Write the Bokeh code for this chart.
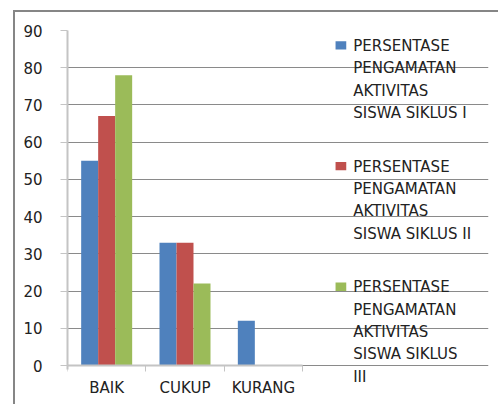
from bokeh.plotting import figure
from bokeh.models import ColumnDataSource, Range1d, FixedTicker
from bokeh.core.properties import value
from bokeh.transform import dodge
from bokeh.embed import file_html
from bokeh.resources import INLINE

categories = ["BAIK", "CUKUP", "KURANG"]
siklus1 = [55, 33, 12]
siklus2 = [67, 33, 0]
siklus3 = [78, 22, 0]
series_labels = [
    ["PERSENTASE", "PENGAMATAN", "AKTIVITAS", "SISWA SIKLUS I"],
    ["PERSENTASE", "PENGAMATAN", "AKTIVITAS", "SISWA SIKLUS II"],
    ["PERSENTASE", "PENGAMATAN", "AKTIVITAS", "SISWA SIKLUS", "III"],
]
y_ticks = list(range(0, 91, 10))

colors = ["#4F81BD", "#C0504D", "#9BBB59"]
FONT = "DejaVu Sans"
TEXT_COLOR = "#222222"

# ---- layout geometry (pixels) ----
W, H = 485, 394
ML, MT, MR, MB = 52, 18, 12, 6
FW, FH = W - ML - MR, H - MT - MB
CAT_PX = 235 / 3            # pixel width of one category slot
VAL_PX = 335 / 90           # pixels per value unit
BASE_FIX = 4.5              # text baseline compensation (px)
n = len(categories)
y_max = y_ticks[-1]
x_end = FW / CAT_PX
y_start = -(FH - y_max * VAL_PX) / VAL_PX

def px_x(px):   # pixel offset from the value axis -> x data
    return px / CAT_PX

def px_y(px):   # pixel offset above the zero line -> y data
    return px / VAL_PX

centers = [i + 0.5 for i in range(n)]          # category slot centres
bounds = [float(i) for i in range(n + 1)]      # category slot boundaries

source = ColumnDataSource(dict(x=centers, cat=categories,
                               s1=siklus1, s2=siklus2, s3=siklus3))

p = figure(width=W, height=H, output_backend="svg", toolbar_location=None,
           x_range=Range1d(0, x_end), y_range=Range1d(y_start, y_max),
           min_border_left=ML, min_border_right=MR, min_border_top=MT,
           min_border_bottom=MB)
p.margin = (10, 0, 0, 13)
p.styles = {"border-left": "2px solid #868686", "border-top": "2px solid #868686",
            "border-right": "none", "border-bottom": "none"}
p.outline_line_color = None
p.background_fill_color = "white"
p.border_fill_color = "white"

bw = 0.217
for field, off, col in zip(["s1", "s2", "s3"], [-bw, 0, bw], colors):
    p.vbar(x=dodge("x", off), top=field, width=bw,
           source=source, fill_color=col, line_color=None)

# y axis
p.yaxis.ticker = FixedTicker(ticks=y_ticks)
p.yaxis.bounds = (-1, y_max)
p.yaxis.axis_line_color = "#C4C4C4"
p.yaxis.axis_line_width = 2
p.yaxis.major_tick_line_color = "#C4C4C4"
p.yaxis.major_tick_out = 7
p.yaxis.major_tick_in = 0
p.yaxis.minor_tick_line_color = None
p.yaxis.major_label_standoff = 18
p.yaxis.major_label_text_font = FONT
p.yaxis.major_label_text_font_size = "15px"
p.yaxis.major_label_text_color = TEXT_COLOR

p.ygrid.grid_line_color = "#8A8A8A"
p.ygrid.grid_line_width = 1
p.ygrid.bounds = (0, n)
p.xgrid.grid_line_color = None

# x axis drawn at value 0: line + boundary ticks; category names as text
xaxis = p.xaxis[0]
xaxis.fixed_location = 0
xaxis.bounds = (0, n)
xaxis.ticker = FixedTicker(ticks=[], minor_ticks=bounds)
xaxis.axis_line_color = "#C4C4C4"
xaxis.axis_line_width = 2
xaxis.major_tick_line_color = None
xaxis.major_tick_out = 0
xaxis.major_tick_in = 0
xaxis.minor_tick_line_color = "#C4C4C4"
xaxis.minor_tick_out = 6
xaxis.minor_tick_in = 0
xaxis.major_label_standoff = 0

p.text(x=centers, y=[-px_y(27 - BASE_FIX)] * n, text=categories,
       text_font=value(FONT), text_font_size="15px", text_color=TEXT_COLOR,
       text_align="center", text_baseline="alphabetic")

# legend
text_x = px_x(285.7)
sw_cx = px_x(273.4)
first_base = 315.0
line_step = 22.3
entry_step = 120.7
sw_x, sw_y, sw_c = [], [], []
tx, ty, tt = [], [], []
for k, (lines, col) in enumerate(zip(series_labels, colors)):
    base = first_base - k * entry_step
    sw_x.append(sw_cx)
    sw_y.append(px_y(base + 1 + 4.15))
    sw_c.append(col)
    for j, line in enumerate(lines):
        tx.append(text_x)
        ty.append(px_y(base - j * line_step + BASE_FIX))
        tt.append(line)
p.rect(x=sw_x, y=sw_y, width=10.7, height=8.3, width_units="screen",
       height_units="screen", fill_color=sw_c, line_color=None)
p.text(x=tx, y=ty, text=tt, text_font=value(FONT), text_font_size="15px",
       text_color=TEXT_COLOR, text_baseline="alphabetic", text_align="left")

open("out.html", "w").write(file_html(p, INLINE))
